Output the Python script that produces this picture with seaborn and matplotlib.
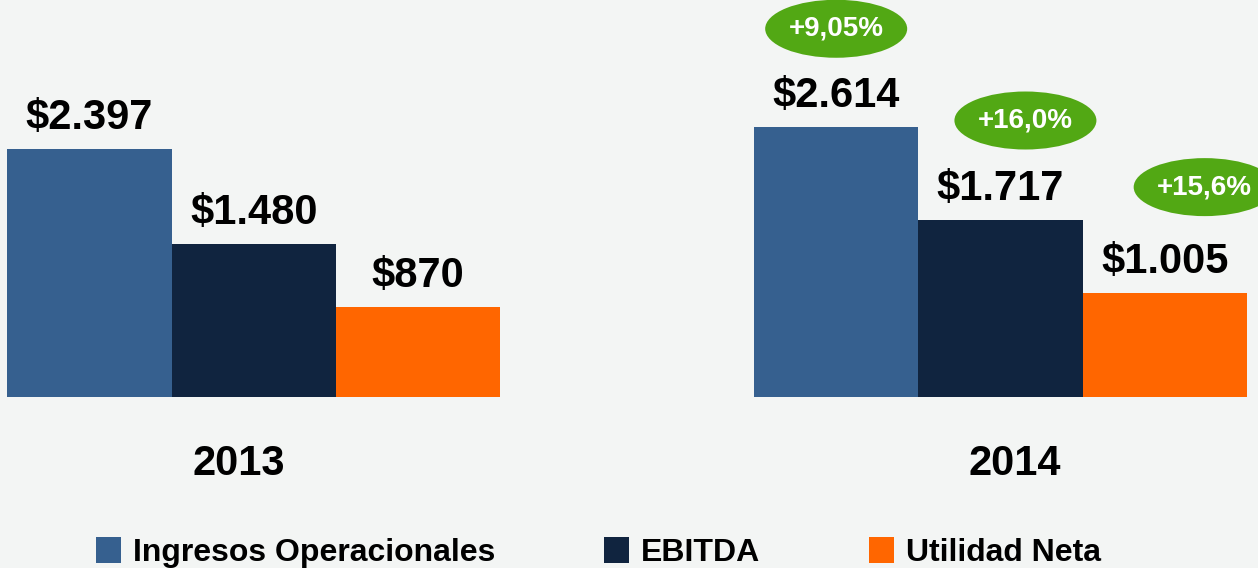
import pandas as pd
import matplotlib
matplotlib.use("Agg")
import matplotlib.pyplot as plt
import seaborn as sns
from matplotlib.patches import Ellipse
from matplotlib.transforms import Affine2D, ScaledTranslation

# --- Datos ---
anios = ["2013", "2014"]
metricas = ["Ingresos Operacionales", "EBITDA", "Utilidad Neta"]
valores_2013 = [2397, 1480, 870]
valores_2014 = [2614, 1717, 1005]
etiquetas_2013 = ["$2.397", "$1.480", "$870"]
etiquetas_2014 = ["$2.614", "$1.717", "$1.005"]
crecimiento = ["+9,05%", "+16,0%", "+15,6%"]

colores = ["#36608F", "#10243F", "#FF6600"]
verde = "#52A814"
fondo = "#F3F5F4"

df = pd.DataFrame({
    "anio": [anios[0]] * 3 + [anios[1]] * 3,
    "metrica": metricas * 2,
    "valor": valores_2013 + valores_2014,
})

sns.set_theme(style="white")
plt.rcParams["font.family"] = ["Liberation Sans", "DejaVu Sans"]
plt.rcParams["font.weight"] = "bold"

fig = plt.figure(figsize=(12.58, 5.68), dpi=100, facecolor=fondo)
ax = fig.add_axes([0, 0.301, 1, 0.699])
ax.set_facecolor(fondo)

sns.barplot(data=df, x="anio", y="valor", hue="metrica", hue_order=metricas,
            palette=colores, width=0.66, saturation=1, linewidth=0, ax=ax)

ax.set_xlim(-0.340, 1.345)
ax.set_ylim(0, 3840)
for s in ax.spines.values():
    s.set_visible(False)
ax.set_yticks([])
ax.set_xlabel("")
ax.set_ylabel("")
ax.tick_params(axis="x", length=0, labelbottom=False)

# --- Etiquetas de año (ligeramente desplazadas como en la lámina) ---
desplaz_anio_px = [-15, 14]
for x, anio, dx in zip(ax.get_xticks(), anios, desplaz_anio_px):
    ax.annotate(anio, (x, 0), xytext=(dx * 0.72, -34), textcoords="offset points",
                ha="center", va="top", fontsize=30, fontweight="bold",
                color="black", annotation_clip=False)

# --- Etiquetas de valor ---
etiquetas = [etiquetas_2013, etiquetas_2014]
for i, cont in enumerate(ax.containers):
    for j, bar in enumerate(cont):
        xc = bar.get_x() + bar.get_width() / 2
        ax.annotate(etiquetas[j][i], (xc, bar.get_height()), xytext=(0, 14.4),
                    textcoords="offset points", ha="center", va="baseline",
                    fontsize=30, fontweight="bold", color="black",
                    annotation_clip=False)

# --- Burbujas de crecimiento (2014) ---
desplaz_px = [(0, 98), (25, 99), (40, 106)]
for i, cont in enumerate(ax.containers):
    bar = cont[1]
    xc = bar.get_x() + bar.get_width() / 2
    yc = bar.get_height()
    dx, dy = desplaz_px[i]
    trans = (Affine2D().scale(1 / 100.) + fig.dpi_scale_trans
             + ScaledTranslation(xc, yc, ax.transData)
             + ScaledTranslation(dx / 100., dy / 100., fig.dpi_scale_trans))
    elip = Ellipse((0, 0), 142, 58, transform=trans, facecolor=verde,
                   edgecolor="none", clip_on=False)
    ax.add_artist(elip)
    ax.annotate(crecimiento[i], (xc, yc), xytext=(dx * 0.72, dy * 0.72),
                textcoords="offset points", ha="center", va="center",
                fontsize=20, fontweight="bold", color="white",
                annotation_clip=False)

# --- Leyenda ---
handles, labels = ax.get_legend_handles_labels()
ax.get_legend().remove()
fig.legend(handles, labels, loc="lower center", bbox_to_anchor=(0.4755, 0.0),
           ncol=3, frameon=False, handlelength=0.8, handleheight=0.85,
           handletextpad=0.36, columnspacing=3.4, borderpad=0,
           borderaxespad=0, labelcolor="black",
           prop={"weight": "bold", "size": 23})

fig.savefig("out.png", dpi=100, facecolor=fondo)
